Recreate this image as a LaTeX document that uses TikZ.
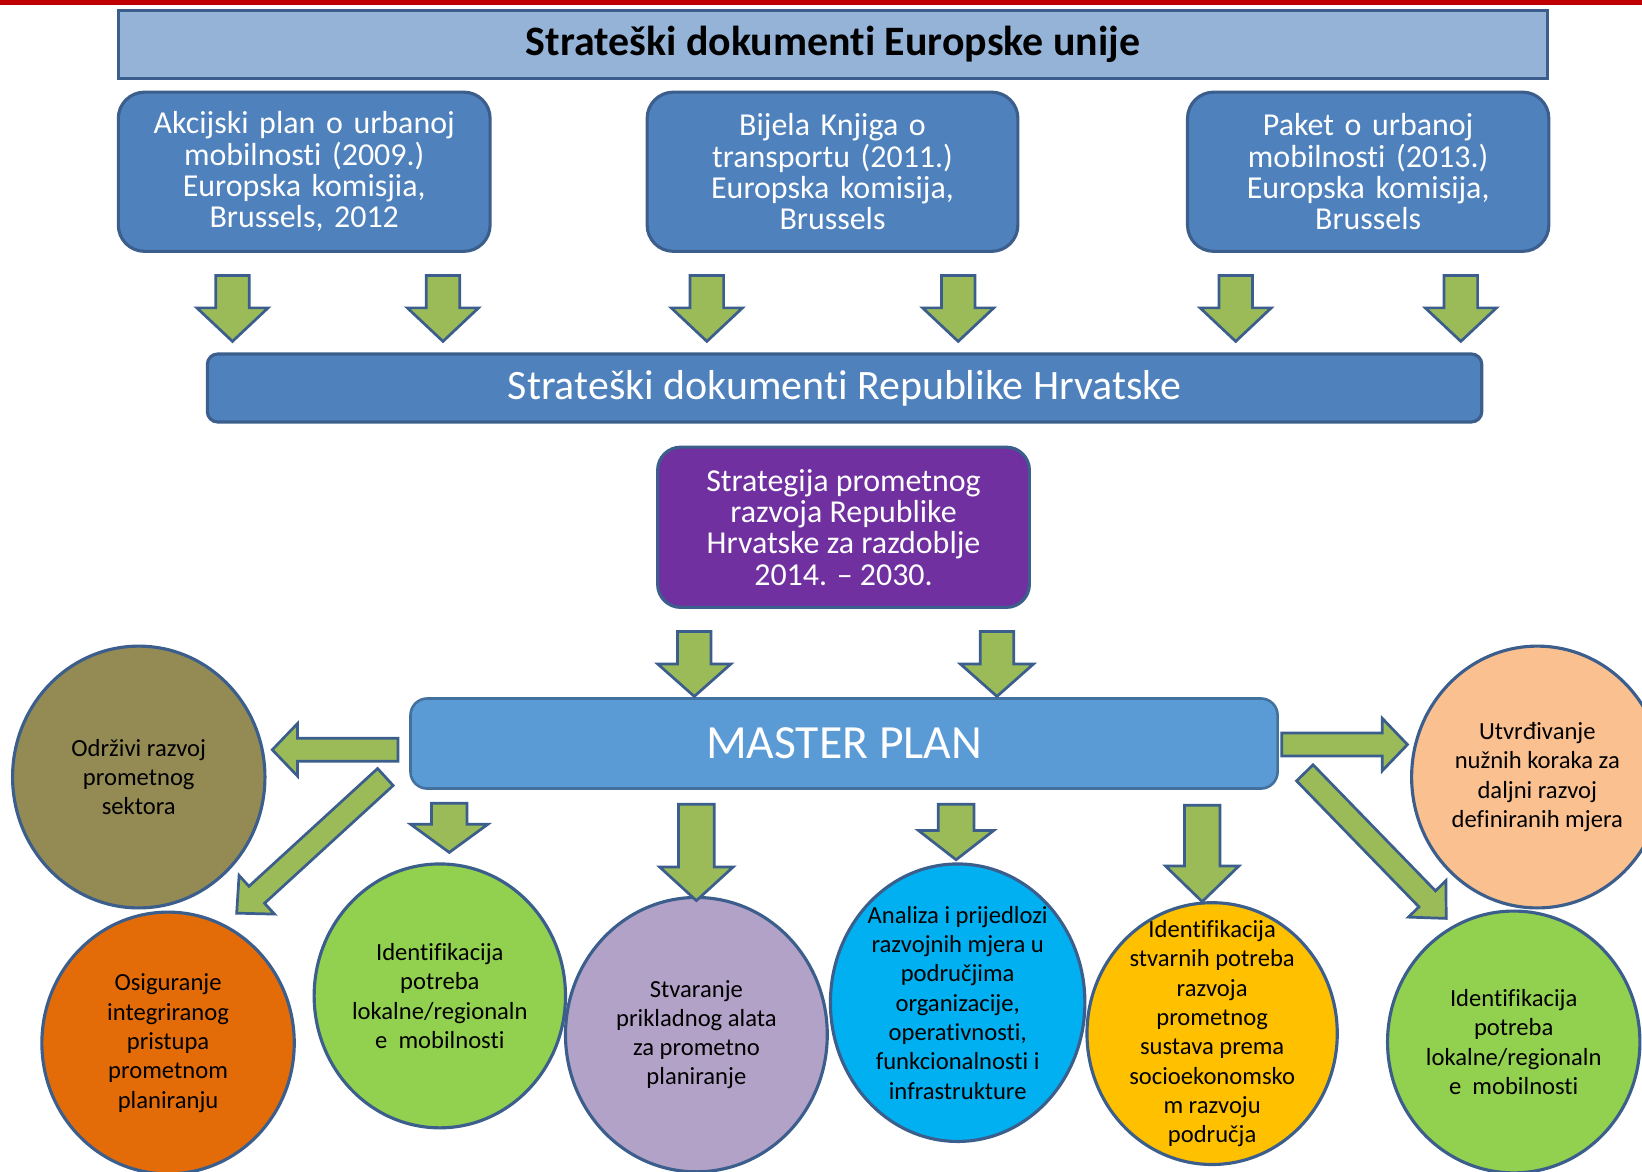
\documentclass[tikz,border=0pt]{standalone}
\usepackage{fontspec}
\setmainfont{Carlito}[Ligatures=NoCommon]
\usetikzlibrary{calc,shapes.geometric}
\definecolor{redline}{HTML}{C00000}
\definecolor{topfill}{HTML}{95B3D7}
\definecolor{bordblue}{HTML}{3B5E8C}
\definecolor{boxblue}{HTML}{4F81BD}
\definecolor{purp}{HTML}{7030A0}
\definecolor{mastfill}{HTML}{5B9BD5}
\definecolor{mastdraw}{HTML}{41719C}
\definecolor{arrfill}{HTML}{9BBB59}
\definecolor{olivec}{HTML}{948A54}
\definecolor{orangec}{HTML}{E36C09}
\definecolor{greenc}{HTML}{92D050}
\definecolor{lavc}{HTML}{B2A2C7}
\definecolor{cyanc}{HTML}{00B0F0}
\definecolor{goldc}{HTML}{FFC000}
\definecolor{peachc}{HTML}{FAC090}
\newcommand\barrow[5]{%
  \path ($(#2)!#5!(#1)$) coordinate (bah);
  \draw[blockarrow] ($(#1)!#3!90:(#2)$) -- ($(bah)!#3!90:(#2)$) -- ($(bah)!#4!90:(#2)$) -- (#2)
     -- ($(bah)!#4!-90:(#2)$) -- ($(bah)!#3!-90:(#2)$) -- ($(#1)!#3!-90:(#2)$) -- cycle;
}
\begin{document}
\begin{tikzpicture}[x=1pt,y=-1pt,
  blockarrow/.style={fill=arrfill,draw=bordblue,line width=2.6pt,line join=miter},
  topbar/.style={draw=bordblue,fill=topfill,line width=3pt,inner sep=0,
     font=\fontsize{40}{44}\selectfont\bfseries,text=black},
  eubox/.style={draw=bordblue,fill=boxblue,line width=3pt,rounded corners=25pt,inner sep=0,
     text=white,align=center,font=\fontsize{30.5}{30}\selectfont,
     minimum height=152,text width=345},
  hrbar/.style={draw=bordblue,fill=boxblue,line width=3pt,rounded corners=10pt,inner sep=0,
     text=white,font=\fontsize{40}{44}\selectfont},
  purpbox/.style={draw=bordblue,fill=purp,line width=3pt,rounded corners=22pt,inner sep=0,
     text=white,align=center,font=\fontsize{30.5}{30}\selectfont},
  mastbox/.style={draw=mastdraw,fill=mastfill,line width=2.5pt,rounded corners=16pt,inner sep=0,
     text=white,font=\fontsize{45.5}{50}\selectfont},
  circ/.style={ellipse,draw=bordblue,line width=3pt,inner sep=0},
  ctext/.style={align=center,text=black,font=\fontsize{23.5}{28}\selectfont,inner sep=0}
]
\useasboundingbox (0,0) rectangle (1568,1119);
\fill[redline] (0,0) rectangle (1568,5);

% top bar
\node[topbar,minimum width=1365,minimum height=65] (eu) at (795.5,42.5) {\raisebox{-3pt}{Strateški dokumenti Europske unije}};

% EU documents
\node[eubox,minimum width=355] (d1) at (290.5,164) {Akcijski plan o urbanoj\\mobilnosti (2009.)\\Europska komisjia,\\Brussels, 2012};
\node[eubox,minimum width=354] (d2) at (795,164) {Bijela Knjiga o\\transportu (2011.)\\Europska komisija,\\Brussels};
\node[eubox,minimum width=343] (d3) at (1306.5,164) {Paket o urbanoj\\mobilnosti (2013.)\\Europska komisija,\\Brussels};

% HR bar
\node[hrbar,minimum width=1217,minimum height=65] (hr) at (806.5,370.5) {\raisebox{-3pt}{Strateški dokumenti Republike Hrvatske}};

% purple
\node[purpbox,minimum width=355,minimum height=153] (st) at (805.5,503.5) {Strategija prometnog\\razvoja Republike\\Hrvatske za razdoblje\\2014. -- 2030.};

% master plan
\node[mastbox,minimum width=828,minimum height=86] (mp) at (806,710) {\raisebox{-2pt}{MASTER PLAN}};

% circles
\node[circ,fill=olivec,minimum width=241,minimum height=250] (c1) at (132.5,742) {};
\node[circ,fill=orangec,minimum width=241,minimum height=250] (c2) at (160.5,996) {};
\node[circ,fill=greenc,minimum width=240,minimum height=252] (c3) at (420,951) {};
\node[circ,fill=lavc,minimum width=250,minimum height=262] (c4) at (665,988) {};
\node[circ,fill=cyanc,minimum width=243,minimum height=265] (c5) at (914.5,957.5) {};
\node[circ,fill=goldc,minimum width=239,minimum height=250] (c6) at (1157.5,987) {};
\node[circ,fill=peachc,minimum width=240,minimum height=250] (c7) at (1468,742) {};
\node[circ,fill=greenc,minimum width=241,minimum height=250] (c8) at (1445.5,995) {};

\node[ctext] (t1) at (c1) {Održivi razvoj\\prometnog\\sektora};
\node[ctext] (t2) at (c2) {Osiguranje\\integriranog\\pristupa\\prometnom\\planiranju};
\node[ctext] (t3) at (c3) {Identifikacija\\potreba\\lokalne/regionaln\\e\ \ mobilnosti};
\node[ctext] (t4) at (c4) {Stvaranje\\prikladnog alata\\za prometno\\planiranje};
\node[ctext] (t5) at (c5) {Analiza i prijedlozi\\razvojnih mjera u\\područjima\\organizacije,\\operativnosti,\\funkcionalnosti i\\infrastrukture};
\node[ctext] (t6) at (c6) {Identifikacija\\stvarnih potreba\\razvoja\\prometnog\\sustava prema\\socioekonomsko\\m razvoju\\područja};
\node[ctext] (t7) at (c7) {Utvrđivanje\\nužnih koraka za\\daljni razvoj\\definiranih mjera};
\node[ctext] (t8) at (c8) {Identifikacija\\potreba\\lokalne/regionaln\\e\ \ mobilnosti};

% arrow end points
\foreach \i/\x in {1/222,2/423,3/675,4/915,5/1180,6/1395}{
  \coordinate (ra\i) at (\x,263);
  \coordinate (rb\i) at (\x,326);
}
\coordinate (sa1) at (663,603); \coordinate (sb1) at (663,665);
\coordinate (sa2) at (952,603); \coordinate (sb2) at (952,665);
\coordinate (la) at (380,716); \coordinate (lb) at (260,716);
\coordinate (ya) at (1224,711); \coordinate (yb) at (1344,711);
\coordinate (lda) at (368,742); \coordinate (ldb) at (226,872);
\coordinate (rda) at (1246,738); \coordinate (rdb) at (1381,877);
\coordinate (ma1) at (429,767); \coordinate (mb1) at (429,814);
\coordinate (ma2) at (665,768); \coordinate (mb2) at (665,860);
\coordinate (ma3) at (913,768); \coordinate (mb3) at (913,821);
\coordinate (ma4) at (1148,769); \coordinate (mb4) at (1148,861);

\foreach \i in {1,...,6}{ \barrow{ra\i}{rb\i}{16pt}{34pt}{32pt} }
\barrow{sa1}{sb1}{16pt}{35pt}{31pt}
\barrow{sa2}{sb2}{16pt}{35pt}{31pt}
\barrow{la}{lb}{11pt}{25pt}{24pt}
\barrow{ya}{yb}{11pt}{25pt}{24pt}
\barrow{lda}{ldb}{11pt}{25pt}{26pt}
\barrow{rda}{rdb}{11pt}{25pt}{26pt}
\barrow{ma1}{mb1}{17pt}{37pt}{27pt}
\barrow{ma2}{mb2}{17pt}{35pt}{32pt}
\barrow{ma3}{mb3}{17pt}{36pt}{28pt}
\barrow{ma4}{mb4}{17pt}{35pt}{34pt}
\end{tikzpicture}
\end{document}
